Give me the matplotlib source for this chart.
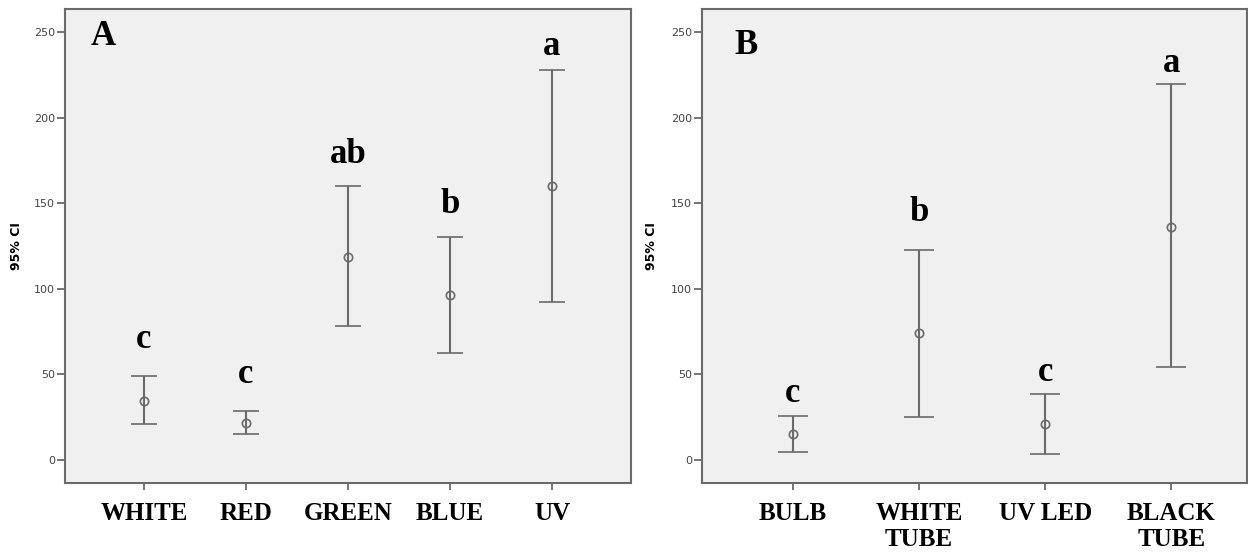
import matplotlib.pyplot as plt
import numpy as np

# panel A: light colour
colours = ["WHITE", "RED", "GREEN", "BLUE", "UV"]
mean_a = [34.7, 21.8, 118.7, 96.4, 159.8]
low_a = [20.9, 15.0, 78.0, 62.6, 92.5]
high_a = [49.0, 28.7, 159.8, 130.2, 227.8]
letters_a = ["c", "c", "ab", "b", "a"]

# panel B: light source
sources = ["BULB", "WHITE\nTUBE", "UV LED", "BLACK\nTUBE"]
mean_b = [15.2, 74.0, 21.0, 136.4]
low_b = [4.7, 24.8, 3.5, 54.4]
high_b = [25.8, 122.5, 38.6, 219.5]
letters_b = ["c", "b", "c", "a"]

# letter gap above the upper cap, in points
pad_a = [20, 20, 17, 17, 11]
pad_b = [10, 21, 9, 9]

plt.rcParams['font.family'] = ['Liberation Serif', 'DejaVu Serif']

fig = plt.figure(figsize=(12.48, 5.6), dpi=100)
ax_a = fig.add_axes([0.0521, 0.1375, 0.4535, 0.8464])
ax_b = fig.add_axes([0.5625, 0.1375, 0.4367, 0.8464])

grey = "#6a6a6a"


def draw_panel(ax, cats, mean, low, high, letters, pads, tag, xlim, cap,
               tag_xy, ylab_x):
    x = np.arange(len(cats))
    mean = np.array(mean)
    err = [mean - np.array(low), np.array(high) - mean]
    ax.errorbar(x, mean, yerr=err, fmt="o", color=grey, ecolor=grey,
                elinewidth=1.5, capsize=cap, capthick=1.5,
                markersize=6, markerfacecolor="none", markeredgewidth=1.2)
    for xi, hi, lt, p in zip(x, high, letters, pads):
        ax.annotate(lt, (xi, hi), xytext=(0, p), textcoords="offset points",
                    ha="center", va="baseline", fontsize=25, fontweight="bold")
    ax.text(tag_xy[0], tag_xy[1], tag, transform=ax.transAxes, fontsize=25,
            fontweight="bold", ha="center", va="center")
    ax.set_facecolor("#f0f0f0")
    ax.set_xlim(*xlim)
    ax.set_ylim(-13.5, 263.5)
    ax.set_yticks([0, 50, 100, 150, 200, 250])
    ax.set_xticks(x)
    ax.set_xticklabels(cats, fontsize=18, fontweight="bold", linespacing=1.15)
    ax.tick_params(axis="x", length=5, width=1.3, color=grey, pad=9)
    ax.tick_params(axis="y", length=6, width=1.3, color=grey, pad=1,
                   labelsize=8, labelcolor="#444444")
    for lbl in ax.get_yticklabels():
        lbl.set_fontfamily("DejaVu Sans")
    for sp in ax.spines.values():
        sp.set_color(grey)
        sp.set_linewidth(1.5)
    ax.set_ylabel("95% CI", fontsize=9, fontweight="bold",
                  fontfamily="DejaVu Sans")
    ax.yaxis.set_label_coords(ylab_x, 0.5)


draw_panel(ax_a, colours, mean_a, low_a, high_a, letters_a, pad_a, "A",
           (-0.775, 4.775), 9.4, (0.068, 0.941), -0.074)
draw_panel(ax_b, sources, mean_b, low_b, high_b, letters_b, pad_b, "B",
           (-0.72, 3.6), 11, (0.081, 0.922), -0.081)

fig.savefig("out.png", dpi=100, facecolor="white")
